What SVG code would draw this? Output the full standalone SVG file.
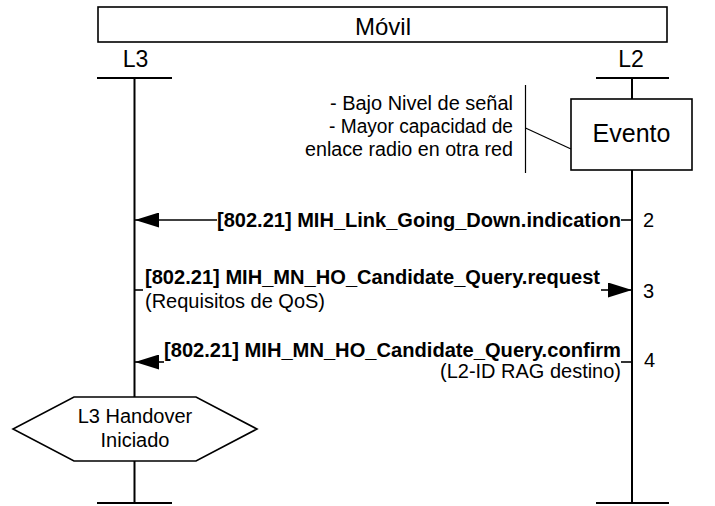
<svg xmlns="http://www.w3.org/2000/svg" width="715" height="506" viewBox="0 0 715 506">
<style>
text{font-family:"Liberation Sans",Arial,sans-serif;fill:#000}
.box{fill:#fff;stroke:#000;stroke-width:1.6}
.life{stroke:#000;stroke-width:2;fill:none}
.msg{stroke:#000;stroke-width:1.6;fill:none}
.thin{stroke:#000;stroke-width:1.2;fill:none}
.lbl{font-size:20px;font-weight:bold}
.sub{font-size:20px}
.num{font-size:20px}
</style>
<defs>
<marker id="arr" markerUnits="userSpaceOnUse" viewBox="0 0 24 15" markerWidth="24" markerHeight="15" refX="24" refY="7.5" orient="auto">
<path d="M0,0 L24,7.5 L0,15 z" fill="#000"/>
</marker>
</defs>
<rect width="715" height="506" fill="#fff"/>

<g id="movil">
<rect class="box" x="98" y="7" width="569" height="35"/>
<text x="383" y="35" font-size="24" text-anchor="middle">Móvil</text>
</g>

<g id="L3">
<text x="135.5" y="67" font-size="23" text-anchor="middle">L3</text>
<line class="life" x1="97" y1="78" x2="172" y2="78"/>
<line class="life" x1="134.5" y1="78" x2="134.5" y2="503"/>
<line class="life" x1="97" y1="503" x2="172" y2="503"/>
</g>

<g id="L2">
<text x="631" y="67" font-size="23" text-anchor="middle">L2</text>
<line class="life" x1="596" y1="78" x2="669" y2="78"/>
<line class="life" x1="632" y1="78" x2="632" y2="503"/>
<line class="life" x1="596" y1="503" x2="669" y2="503"/>
</g>

<g id="evento">
<rect class="box" x="571" y="99" width="121" height="71"/>
<text x="631.5" y="142" font-size="25" text-anchor="middle">Evento</text>
</g>

<g id="nota">
<line class="thin" x1="525.5" y1="85" x2="525.5" y2="173"/>
<line class="thin" x1="525.5" y1="128" x2="571" y2="149"/>
<text class="sub" x="513" y="110" text-anchor="end" textLength="183" lengthAdjust="spacingAndGlyphs">- Bajo Nivel de señal</text>
<text class="sub" x="513" y="133" text-anchor="end" textLength="184" lengthAdjust="spacingAndGlyphs">- Mayor capacidad de</text>
<text class="sub" x="513" y="156" text-anchor="end" textLength="208" lengthAdjust="spacingAndGlyphs">enlace radio en otra red</text>
</g>

<g id="handover">
<polygon class="box" points="74,397 196,397 257,429 196,461 74,461 13,429"/>
<text x="135" y="423" font-size="20" text-anchor="middle">L3 Handover</text>
<text x="135" y="447" font-size="20" text-anchor="middle">Iniciado</text>
</g>

<g id="connectors">
<line class="msg" x1="621" y1="220" x2="632" y2="220"/>
<line class="msg" x1="217" y1="220" x2="135" y2="220" marker-end="url(#arr)"/>
<line class="msg" x1="135" y1="290" x2="143" y2="290"/>
<line class="msg" x1="601" y1="290" x2="632" y2="290" marker-end="url(#arr)"/>
<line class="msg" x1="621" y1="362" x2="632" y2="362"/>
<line class="msg" x1="164" y1="362" x2="135" y2="362" marker-end="url(#arr)"/>
</g>

<g id="labels">
<text class="lbl" x="217" y="227" textLength="404" lengthAdjust="spacingAndGlyphs">[802.21] MIH_Link_Going_Down.indication</text>
<text class="num" x="643" y="227">2</text>
<text class="lbl" x="145" y="284" textLength="455" lengthAdjust="spacingAndGlyphs">[802.21] MIH_MN_HO_Candidate_Query.request</text>
<text class="sub" x="145" y="308" textLength="180" lengthAdjust="spacingAndGlyphs">(Requisitos de QoS)</text>
<text class="num" x="643" y="298">3</text>
<text class="lbl" x="164" y="357" textLength="457" lengthAdjust="spacingAndGlyphs">[802.21] MIH_MN_HO_Candidate_Query.confirm</text>
<text class="sub" x="621" y="378" text-anchor="end" textLength="181" lengthAdjust="spacingAndGlyphs">(L2-ID RAG destino)</text>
<text class="num" x="644" y="367">4</text>
</g>
</svg>
